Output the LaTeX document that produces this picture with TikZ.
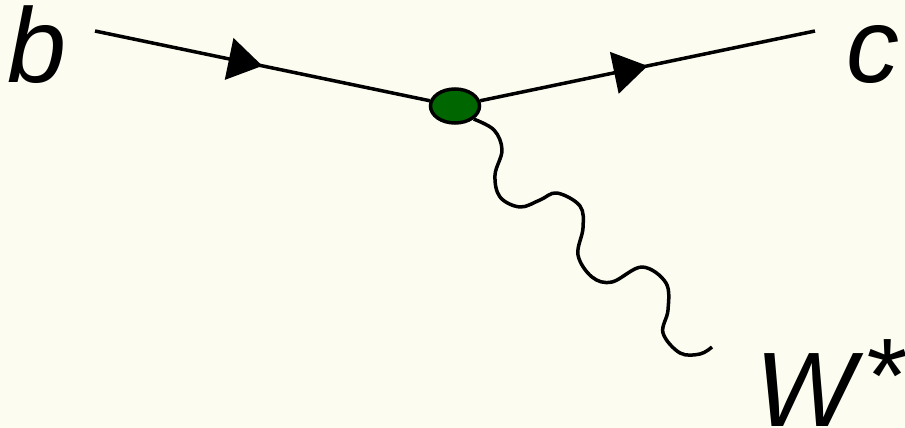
\documentclass[tikz,border=0pt]{standalone}
\usepackage{fontspec}
\setmainfont{Liberation Sans}
\usetikzlibrary{arrows.meta,decorations.markings,shapes.geometric}
\definecolor{bg}{RGB}{253,252,240}
\definecolor{vgreen}{RGB}{0,102,0}
\tikzset{
  fermion/.style={line width=3.5pt, postaction={decorate},
    decoration={markings, mark=at position 0.5 with {\arrow{Triangle[length=34pt,width=42pt]}}}},
  lbl/.style={inner sep=0pt, font=\fontsize{106}{120}\selectfont\itshape},
  vertex/.style={ellipse, draw, line width=3.5pt, fill=vgreen, minimum width=49pt, minimum height=34pt, inner sep=0pt},
  photon/.style={line width=3.5pt, line join=round}
}
\begin{document}
\begin{tikzpicture}[x=1pt,y=-1pt]
\fill[bg] (0,0) rectangle (905,428);
\useasboundingbox (0,0) rectangle (905,428);
\node[vertex] (v) at (455,106) {};
\coordinate (bs) at (95,31);
\coordinate (ce) at (815,31);
\coordinate (we) at (712,347);
\draw[fermion] (bs) -- (v);
\draw[fermion] (v) -- (ce);
\draw[photon] plot[smooth, tension=0.6] coordinates {(v.-35) (494,130) (502,150) (495,175) (500,197) (520,207) (540,200) (557,193) (580,206) (583,228) (578,255) (592,277) (612,282) (642,267) (666,283) (668,310) (663,333) (680,353) (700,354) (712,347)};
\node[lbl, anchor=base west] (b) at (7,82) {b};
\node[lbl, anchor=base east] (c) at (900,82) {c};
\node[lbl, anchor=base west] (w) at (755,426) {W\kern7pt\raisebox{14pt}{*}};
\end{tikzpicture}
\end{document}
